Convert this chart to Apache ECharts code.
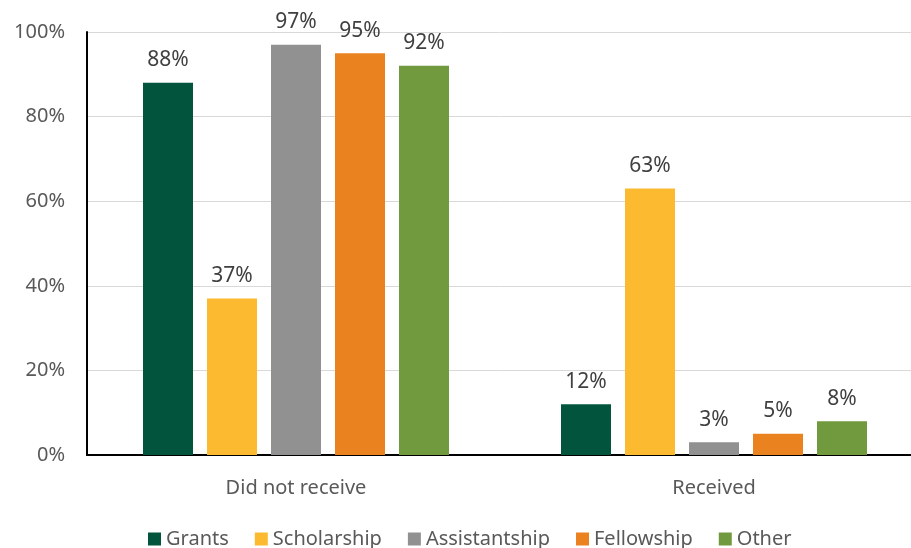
<!DOCTYPE html>
<html>
<head>
<meta charset="utf-8">
<script src="https://cdn.jsdelivr.net/npm/echarts@6/dist/echarts.min.js"></script>
<style>
  html, body { margin: 0; padding: 0; background: #fff; }
  #chart { width: 911px; height: 548px; }
</style>
</head>
<body>
<div id="chart"></div>
<script>
// data
const categories = ["Did not receive", "Received"];
const seriesNames = ["Grants", "Scholarship", "Assistantship", "Fellowship", "Other"];
const grants = [88, 12];
const scholarship = [37, 63];
const assistantship = [97, 3];
const fellowship = [95, 5];
const other = [92, 8];
const yTicks = [0, 20, 40, 60, 80, 100];

const colors = ["#03543C", "#FBBA30", "#919191", "#EA8220", "#71993E"];
const values = [grants, scholarship, assistantship, fellowship, other];
const font = "'Noto Sans', sans-serif";

let chart = echarts.init(document.getElementById("chart"));
chart.setOption({
  animation: false,
  color: colors,
  grid: { left: 87, width: 836, top: 32, bottom: 93, outerBoundsMode: "none", containLabel: false },
  legend: {
    data: seriesNames,
    top: 524,
    left: 143,
    itemWidth: 13,
    itemHeight: 13,
    itemGap: 26,
    icon: "rect",
    textStyle: { color: "#595959", fontSize: 20, fontFamily: font }
  },
  xAxis: {
    type: "category",
    data: categories,
    axisTick: { show: false },
    axisLine: { lineStyle: { color: "#000", width: 2 } },
    axisLabel: { color: "#595959", fontSize: 20, fontFamily: font, margin: 23 }
  },
  yAxis: {
    type: "value",
    min: yTicks[0],
    max: yTicks[yTicks.length - 1],
    interval: 20,
    axisLine: { show: true, lineStyle: { color: "#000", width: 2 } },
    axisTick: { show: false },
    axisLabel: { color: "#595959", fontSize: 20, fontFamily: font, margin: 22, formatter: "{value}%" },
    splitLine: { lineStyle: { color: "#D9D9D9", width: 1 } }
  },
  series: seriesNames.map(function (name, i) {
    return {
      name: name,
      type: "bar",
      data: values[i],
      barWidth: 50,
      barGap: "28%",
      label: {
        show: true,
        position: "top",
        distance: 12,
        color: "#404040",
        fontSize: 21,
        fontFamily: font,
        formatter: "{c}%"
      }
    };
  })
});
</script>
</body>
</html>
